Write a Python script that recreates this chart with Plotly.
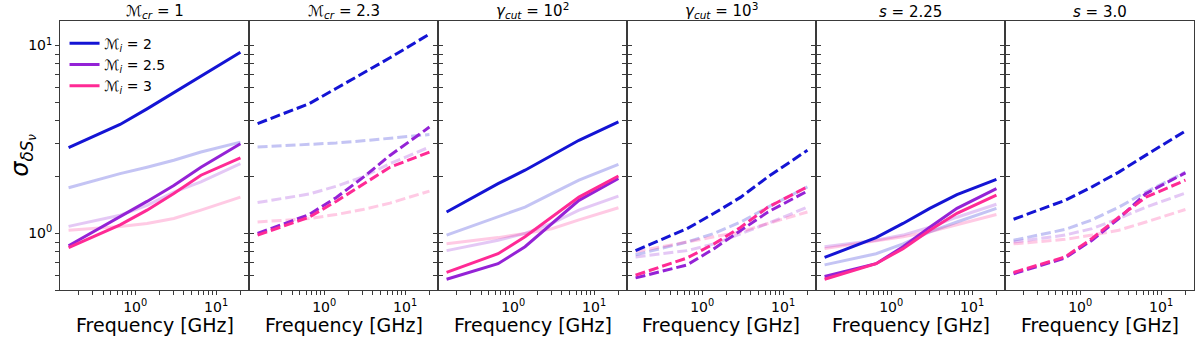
import math
import plotly.graph_objects as go

# frequencies sampled in every panel [GHz]
freq = [0.15, 0.65, 1.4, 3.0, 6.5, 20.0]

mach_i = ["2", "2.5", "3"]
colors = ["#1414d4", "#9422d6", "#ff2a95"]
faint = ["rgba(20,20,212,0.25)", "rgba(148,34,214,0.25)", "rgba(255,42,149,0.25)"]

titles = ["ℳ<sub><i>cr</i></sub> = 1", "ℳ<sub><i>cr</i></sub> = 2.3",
          "<i>γ<sub>cut</sub></i> = 10<sup>2</sup>", "<i>γ<sub>cut</sub></i> = 10<sup>3</sup>",
          "<i>s</i> = 2.25", "<i>s</i> = 3.0"]
dashes = ["solid", "10px,4px", "solid", "10px,4px", "solid", "10px,4px"]

# sigma values, one row per Mach number (2, 2.5, 3)
mcr1_bold = [[2.86, 3.8, 4.6, 5.6, 6.9, 9.2],
             [0.86, 1.22, 1.48, 1.8, 2.25, 3.0],
             [0.84, 1.11, 1.33, 1.63, 2.04, 2.52]]
mcr1_faint = [[1.75, 2.08, 2.25, 2.45, 2.71, 3.06],
              [1.09, 1.25, 1.41, 1.66, 1.88, 2.35],
              [1.04, 1.09, 1.13, 1.2, 1.33, 1.56]]

mcr23_bold = [[3.84, 4.9, 5.9, 7.1, 8.6, 11.5],
              [1.0, 1.26, 1.55, 1.98, 2.6, 3.68],
              [0.98, 1.22, 1.48, 1.82, 2.25, 2.71]]
mcr23_faint = [[2.88, 2.96, 3.03, 3.11, 3.2, 3.36],
               [1.46, 1.62, 1.78, 2.0, 2.35, 2.88],
               [1.15, 1.2, 1.26, 1.34, 1.45, 1.68]]

gcut2_bold = [[1.30, 1.84, 2.17, 2.61, 3.13, 3.92],
              [0.57, 0.69, 0.85, 1.13, 1.5, 1.96],
              [0.62, 0.78, 0.96, 1.22, 1.56, 2.02]]
gcut2_faint = [[0.98, 1.22, 1.38, 1.63, 1.92, 2.33],
               [0.81, 0.92, 1.0, 1.13, 1.33, 1.58],
               [0.88, 0.95, 1.0, 1.06, 1.18, 1.37]]

gcut3_bold = [[0.81, 1.06, 1.28, 1.56, 2.0, 2.77],
              [0.58, 0.68, 0.83, 1.04, 1.30, 1.68],
              [0.60, 0.74, 0.88, 1.08, 1.38, 1.77]]
gcut3_faint = [[0.77, 0.90, 1.0, 1.15, 1.38, 1.77],
               [0.75, 0.81, 0.88, 1.0, 1.13, 1.38],
               [0.80, 0.90, 0.96, 1.02, 1.13, 1.30]]

s225_bold = [[0.745, 0.95, 1.13, 1.36, 1.61, 1.94],
             [0.59, 0.69, 0.85, 1.08, 1.36, 1.73],
             [0.57, 0.69, 0.83, 1.04, 1.28, 1.60]]
s225_faint = [[0.68, 0.78, 0.88, 1.02, 1.15, 1.36],
              [0.85, 0.92, 0.98, 1.08, 1.22, 1.43],
              [0.83, 0.91, 0.96, 1.02, 1.11, 1.26]]

s30_bold = [[1.19, 1.5, 1.77, 2.12, 2.61, 3.51],
            [0.61, 0.74, 0.92, 1.20, 1.63, 2.10],
            [0.62, 0.75, 0.94, 1.22, 1.56, 1.92]]
s30_faint = [[0.92, 1.05, 1.18, 1.38, 1.66, 2.12],
             [0.90, 0.98, 1.06, 1.20, 1.38, 1.64],
             [0.88, 0.93, 0.98, 1.04, 1.15, 1.34]]

panels = [(mcr1_bold, mcr1_faint), (mcr23_bold, mcr23_faint),
          (gcut2_bold, gcut2_faint), (gcut3_bold, gcut3_faint),
          (s225_bold, s225_faint), (s30_bold, s30_faint)]

xticks = [0.2, 0.3, 0.4, 0.5, 0.6, 0.7, 0.8, 0.9, 1, 2, 3, 4, 5, 6, 7, 8, 9, 10, 20]
xtext = ["10<sup>0</sup>" if v == 1 else "10<sup>1</sup>" if v == 10 else "" for v in xticks]
yticks = [0.5, 0.6, 0.7, 0.8, 0.9, 1, 2, 3, 4, 5, 6, 7, 8, 9, 10]
ytext = ["10<sup>0</sup>" if v == 1 else "10<sup>1</sup>" if v == 10 else "" for v in yticks]

xrange_ = [-0.93, 1.407]
yrange_ = [math.log10(0.5), math.log10(13.5)]
font = "DejaVu Sans"
spine = "#3a3a3a"

fig = go.Figure()
n = len(panels)
w = 1.0 / n

for i, (bold, fade) in enumerate(panels):
    k = i + 1
    xa = "x" if k == 1 else f"x{k}"
    ya = "y" if k == 1 else f"y{k}"
    for j in range(3):
        fig.add_trace(go.Scatter(x=freq, y=fade[j], mode="lines", xaxis=xa, yaxis=ya,
                                 line=dict(color=faint[j], width=3, dash=dashes[i]),
                                 showlegend=False, hoverinfo="skip"))
    for j in range(3):
        fig.add_trace(go.Scatter(x=freq, y=bold[j], mode="lines", xaxis=xa, yaxis=ya,
                                 name=f"ℳ<sub><i>i</i></sub> = {mach_i[j]}",
                                 line=dict(color=colors[j], width=3, dash=dashes[i]),
                                 showlegend=(i == 0)))

    fig.layout[f"xaxis{k}"] = dict(
        domain=[i * w, (i + 1) * w], type="log", range=xrange_, anchor=ya,
        tickvals=xticks, ticktext=xtext, ticks="outside", ticklen=4, tickcolor=spine,
        showline=True, linecolor=spine, linewidth=1, mirror=True, showgrid=False,
        zeroline=False, automargin=False,
        tickfont=dict(family=font, size=14, color="black"))
    # inner half of the x ticks
    fig.layout[f"xaxis{k + n}"] = dict(
        overlaying=xa, anchor=ya, side="bottom", type="log", range=xrange_,
        tickvals=xticks, ticktext=["" for _ in xticks], ticks="inside", ticklen=4,
        tickcolor=spine, showline=False, showgrid=False, zeroline=False, automargin=False)
    fig.layout[f"yaxis{k}"] = dict(
        domain=[0, 1], type="log", range=yrange_, anchor=xa,
        tickvals=yticks, ticktext=ytext, ticks="outside", ticklen=4, tickcolor=spine,
        showticklabels=(k == 1), showline=True, linecolor=spine, linewidth=1,
        mirror="ticks" if k < n else True, showgrid=False, zeroline=False,
        automargin=False, tickfont=dict(family=font, size=14, color="black"))
    fig.add_annotation(text=titles[i], x=(i + 0.5) * w, y=1, xref="paper", yref="paper",
                       xanchor="center", yanchor="bottom", yshift=-2, showarrow=False,
                       font=dict(family=font, size=15, color="black"))
    fig.add_annotation(text="Frequency [GHz]", x=(i + 0.5) * w, y=0, xref="paper",
                       yref="paper", xanchor="center", yanchor="middle", yshift=-35,
                       showarrow=False, font=dict(family=font, size=19, color="black"))

# inner half of the left-most y ticks
fig.layout["yaxis13"] = dict(overlaying="y", anchor="x", side="left", type="log",
                             range=yrange_, tickvals=yticks,
                             ticktext=["" for _ in yticks], ticks="inside", ticklen=4,
                             tickcolor=spine, showline=False, showgrid=False,
                             zeroline=False, automargin=False)

fig.add_annotation(text="<i>σ</i><sub><i>δS</i><sub><i>ν</i></sub></sub>",
                   x=-0.05, y=0.5, xref="paper", yref="paper", textangle=-90,
                   showarrow=False, font=dict(family=font, size=24, color="black"))

fig.update_layout(
    width=1200, height=341,
    margin=dict(l=60, r=6, t=21, b=51, autoexpand=False),
    paper_bgcolor="white", plot_bgcolor="white",
    font=dict(family=font, color="black"),
    legend=dict(x=0.004, y=0.975, xanchor="left", yanchor="top",
                bgcolor="rgba(0,0,0,0)", font=dict(family=font, size=14),
                tracegroupgap=0),
)

fig.write_html("out.html", config={"displayModeBar": False},
               post_script="document.body.style.margin = '0';")
